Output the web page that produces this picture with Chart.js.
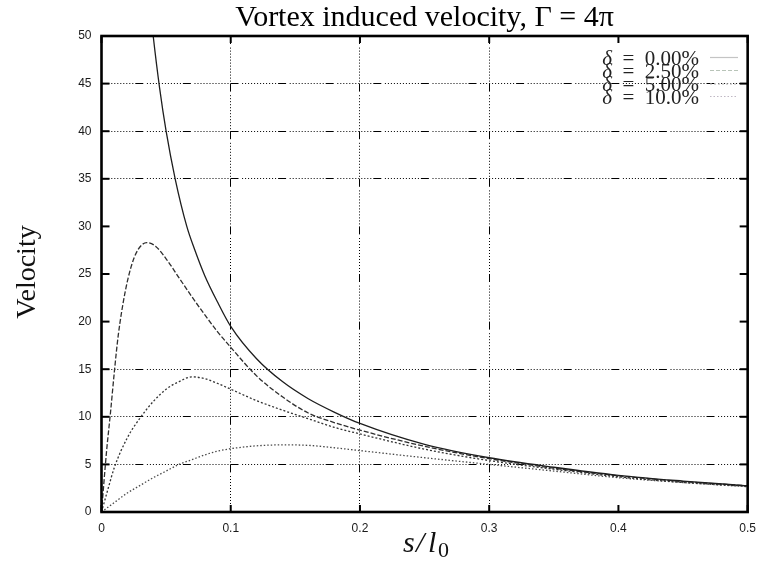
<!DOCTYPE html>
<html>
<head>
<meta charset="utf-8">
<title>Vortex induced velocity</title>
<script src="https://cdn.jsdelivr.net/npm/chart.js@4.4.1/dist/chart.umd.min.js"></script>
<style>
  html, body { margin: 0; padding: 0; background: #fff; }
</style>
</head>
<body>
<canvas id="velChart" width="765" height="562"></canvas>
<script>
// core size delta (percent of l0) -> induced velocity along s/l0
const seriesNames = ['δ = 0.00%', 'δ = 2.50%', 'δ = 5.00%', 'δ = 10.0%']

const s00 = [0.038, 0.04, 0.045, 0.05, 0.057, 0.066, 0.072, 0.08, 0.09, 0.1, 0.12, 0.14, 0.16, 0.18, 0.2, 0.25, 0.3, 0.35, 0.4, 0.45, 0.5]
const v00 = [52.6, 50, 44.5, 40, 35, 30, 27.6, 24.8, 22.0, 19.5, 16.1, 13.7, 11.9, 10.5, 9.3, 7.1, 5.7, 4.7, 3.85, 3.25, 2.75]

const s25 = [0, 0.004, 0.007, 0.01, 0.013, 0.018, 0.023, 0.028, 0.035, 0.042, 0.05, 0.06, 0.07, 0.08, 0.09, 0.1, 0.12, 0.14, 0.16, 0.18, 0.2, 0.25, 0.3, 0.35, 0.4, 0.45, 0.5]
const v25 = [0, 6.5, 10.5, 14.8, 18.6, 22.9, 25.8, 27.5, 28.3, 27.9, 26.6, 24.6, 22.6, 20.7, 18.9, 17.3, 14.3, 12.1, 10.4, 9.4, 8.6, 6.9, 5.6, 4.6, 3.8, 3.2, 2.75]

const s05 = [0, 0.005, 0.01, 0.02, 0.03, 0.04, 0.05, 0.06, 0.07, 0.08, 0.09, 0.1, 0.12, 0.14, 0.16, 0.18, 0.2, 0.25, 0.3, 0.35, 0.4, 0.45, 0.5]
const v05 = [0, 2.4, 4.7, 7.8, 9.9, 11.6, 12.9, 13.7, 14.2, 14.0, 13.5, 12.9, 11.7, 10.7, 9.8, 8.9, 8.2, 6.6, 5.4, 4.5, 3.7, 3.1, 2.7]

const s10 = [0, 0.01, 0.02, 0.03, 0.04, 0.05, 0.06, 0.07, 0.08, 0.09, 0.1, 0.12, 0.14, 0.16, 0.18, 0.2, 0.25, 0.3, 0.35, 0.4, 0.45, 0.5]
const v10 = [0, 1.0, 2.0, 2.8, 3.6, 4.3, 5.0, 5.5, 6.0, 6.4, 6.65, 6.95, 7.05, 7.0, 6.75, 6.45, 5.7, 5.0, 4.3, 3.6, 3.1, 2.65]

// only these grid lines get drawn (gnuplot style output)
const xGridAt = [0.1, 0.2, 0.3]
const yGridAt = [5, 10, 15, 35, 40, 45]

const pts = (xs, ys) => xs.map((x, i) => ({ x: x, y: ys[i] }))

const lineStyles = [
    { color: '#1e1e1e', dash: [] },
    { color: '#2e2e2e', dash: [5, 2] },
    { color: '#333333', dash: [2, 2] },
    { color: '#4a4a4a', dash: [1.5, 2] }
]
const keyStyles = [
    { color: '#c4c4c4', dash: [] },
    { color: '#b8c4b8', dash: [4, 2] },
    { color: '#b8b8b8', dash: [2, 2] },
    { color: '#c0b8c4', dash: [1.5, 2] }
]

const gridDash = [8, 3.6, 1, 2, 1, 2, 1, 2, 1, 2, 1, 2, 1, 2, 1, 2, 1, 2, 1, 2, 1, 2, 1, 2, 1, 2]
const near = (v, list) => list.some(g => Math.abs(g - v) < 1e-6)

// inward tick marks, heavy frame, key and axis titles
const frameDecor = {
    id: 'frameDecor',
    afterDraw(chart) {
        const { ctx, chartArea: a, scales: { x, y } } = chart
        ctx.save()
        ctx.strokeStyle = '#000'
        ctx.lineWidth = 2
        ctx.setLineDash([])
        const seg = (x1, y1, x2, y2) => { ctx.beginPath(); ctx.moveTo(x1, y1); ctx.lineTo(x2, y2); ctx.stroke() }
        x.ticks.forEach(t => {
            const px = x.getPixelForValue(t.value)
            seg(px, a.bottom, px, a.bottom - 7)
            seg(px, a.top, px, a.top + 7)
        })
        y.ticks.forEach(t => {
            const py = y.getPixelForValue(t.value)
            seg(a.left, py, a.left + 8, py)
            seg(a.right, py, a.right - 8, py)
        })
        ctx.lineWidth = 2.6
        ctx.strokeRect(a.left, a.top, a.width, a.height)

        // key, top right inside the plot
        ctx.fillStyle = '#222'
        ctx.textBaseline = 'alphabetic'
        const baseY = [64.5, 77.5, 91, 103.5]
        seriesNames.forEach((name, i) => {
            const rest = name.slice(1).replace(/ /g, '\u2002')
            ctx.font = '21px "Liberation Serif"'
            ctx.textAlign = 'right'
            ctx.fillText(rest, 699, baseY[i])
            const w = ctx.measureText(rest).width
            ctx.font = 'italic 21px "Liberation Serif"'
            ctx.fillText('δ', 699 - w, baseY[i])
            ctx.strokeStyle = keyStyles[i].color
            ctx.lineWidth = 1.2
            ctx.setLineDash(keyStyles[i].dash)
            seg(710, baseY[i] - 7, 738, baseY[i] - 7)
        })
        ctx.setLineDash([])

        // axis titles
        ctx.fillStyle = '#111'
        ctx.textAlign = 'center'
        ctx.textBaseline = 'middle'
        ctx.save()
        ctx.translate(28, 272)
        ctx.rotate(-Math.PI / 2)
        ctx.font = '28px "Liberation Serif"'
        ctx.fillText('Velocity', 0, 0)
        ctx.restore()

        ctx.textAlign = 'left'
        ctx.textBaseline = 'alphabetic'
        ctx.font = 'italic 30px "Liberation Serif"'
        ctx.fillText('s', 403, 552)
        ctx.fillText('/', 416, 552)
        ctx.fillText('l', 428, 552)
        ctx.font = '22px "Liberation Serif"'
        ctx.fillText('0', 438, 557)
        ctx.restore()
    }
}

const ctx = document.getElementById('velChart').getContext('2d')

const velChart = new Chart(ctx, {
    type: 'line',
    data: {
        datasets: [pts(s00, v00), pts(s25, v25), pts(s05, v05), pts(s10, v10)].map((d, i) => ({
            label: seriesNames[i],
            data: d,
            borderColor: lineStyles[i].color,
            borderDash: lineStyles[i].dash,
            borderWidth: 1.3,
            pointRadius: 0,
            fill: false,
            cubicInterpolationMode: 'monotone'
        }))
    },
    options: {
        responsive: false,
        animation: false,
        layout: { padding: { left: 0, right: 13, top: 0, bottom: 0 } },
        plugins: {
            legend: { display: false },
            tooltip: { enabled: false },
            title: {
                display: true,
                fullSize: false,
                text: 'Vortex induced velocity, Γ = 4π',
                color: '#000',
                font: { family: 'Liberation Serif', size: 30, weight: 'normal', lineHeight: 1.2 },
                padding: { top: 0, bottom: 0 }
            }
        },
        scales: {
            x: {
                type: 'linear',
                min: 0,
                max: 0.5,
                afterFit: scale => { scale.height = 50 },
                ticks: {
                    stepSize: 0.1,
                    padding: 9,
                    color: '#1a1a1a',
                    font: { family: 'Liberation Sans', size: 12 },
                    callback: v => v === 0 ? '0' : v.toFixed(1)
                },
                grid: {
                    drawTicks: false,
                    lineWidth: 1,
                    color: c => c.tick && near(c.tick.value, xGridAt) ? '#000' : 'rgba(0,0,0,0)'
                },
                border: { display: false, dash: gridDash, dashOffset: 0 }
            },
            y: {
                min: 0,
                max: 50,
                afterFit: scale => { scale.width = 101.5 },
                ticks: {
                    stepSize: 5,
                    padding: 10,
                    color: '#1a1a1a',
                    font: { family: 'Liberation Sans', size: 12 }
                },
                grid: {
                    drawTicks: false,
                    lineWidth: 1,
                    color: c => c.tick && near(c.tick.value, yGridAt) ? '#000' : 'rgba(0,0,0,0)'
                },
                border: { display: false, dash: gridDash, dashOffset: 14.3 }
            }
        }
    },
    plugins: [frameDecor]
})
</script>
</body>
</html>
